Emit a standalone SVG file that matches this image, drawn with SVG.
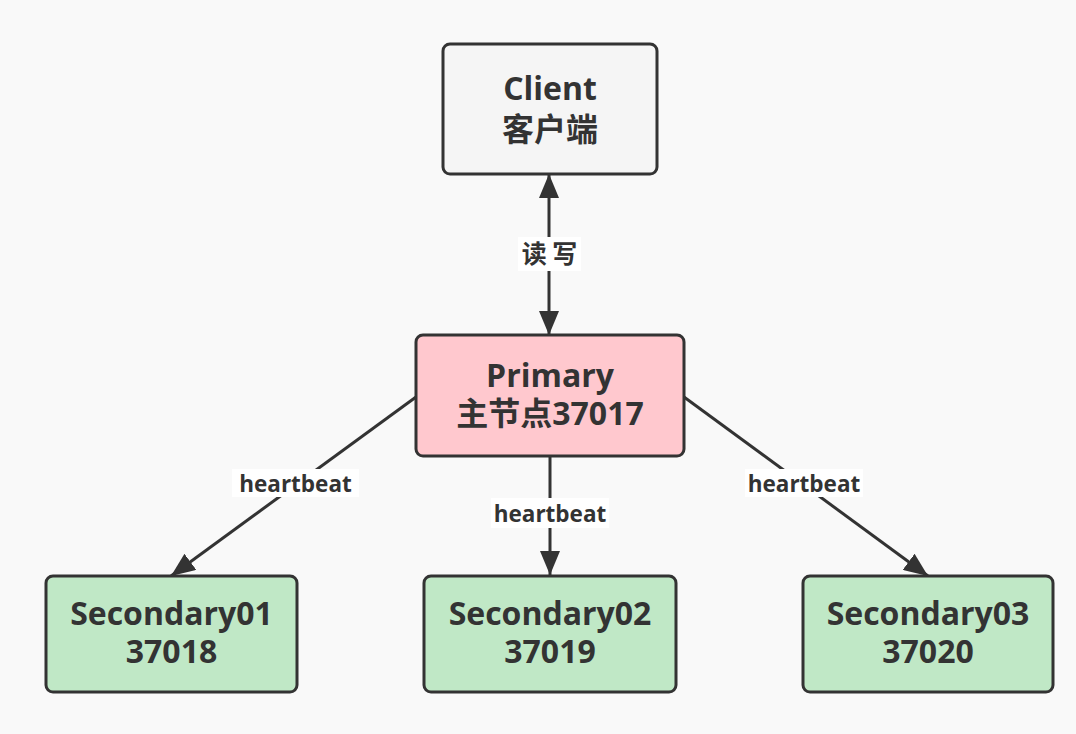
<svg xmlns="http://www.w3.org/2000/svg" width="1076" height="734" viewBox="0 0 1076 734">
<defs>
<style>
.box{stroke:#333;stroke-width:3}
.t{font-family:"Open Sans","Noto Sans CJK SC",sans-serif;font-weight:bold;font-size:32px;fill:#333;text-anchor:middle}
.l{font-family:"Open Sans","Noto Sans CJK SC",sans-serif;font-weight:bold;font-size:22.5px;fill:#333;text-anchor:middle}
.c{font-family:"Noto Sans CJK SC",sans-serif;font-weight:bold;font-size:25px;fill:#333;text-anchor:middle}
.e{stroke:#333;stroke-width:3;fill:none}
</style>
<marker id="ah" viewBox="0 0 24 20" refX="24" refY="10" markerWidth="24" markerHeight="20" markerUnits="userSpaceOnUse" orient="auto-start-reverse">
<path d="M0,0 L24,10 L0,20 Z" fill="#333"/>
</marker>
</defs>
<rect width="1076" height="734" fill="#f9f9f9"/>
<g id="connectors">
<line class="e" x1="549" y1="174" x2="549" y2="335" marker-start="url(#ah)" marker-end="url(#ah)"/>
<rect x="518" y="237" width="63" height="34" fill="#fff"/>
<text class="c" x="549.5" y="263">读 写</text>
<line class="e" x1="416" y1="397" x2="171" y2="576" marker-end="url(#ah)"/>
<rect x="232" y="469" width="127" height="28" fill="#fff"/>
<text class="l" x="295.5" y="492">heartbeat</text>
<line class="e" x1="550" y1="456" x2="550" y2="575" marker-end="url(#ah)"/>
<rect x="491" y="498" width="118" height="30" fill="#fff"/>
<text class="l" x="550" y="522">heartbeat</text>
<line class="e" x1="684" y1="397" x2="928" y2="576" marker-end="url(#ah)"/>
<rect x="745" y="469" width="118" height="28" fill="#fff"/>
<text class="l" x="804" y="492">heartbeat</text>
</g>
<g id="client">
<rect class="box" x="443" y="44" width="214" height="130" rx="7" fill="#f5f5f5"/>
<text class="t" x="550" y="100">Client</text>
<text class="t" x="550" y="141">客户端</text>
</g>
<g id="primary">
<rect class="box" x="416" y="335" width="268" height="121" rx="7" fill="#ffc8ce"/>
<text class="t" x="550" y="387">Primary</text>
<text class="t" x="550" y="425">主节点37017</text>
</g>
<g id="secondary01">
<rect class="box" x="46" y="576" width="251" height="116" rx="7" fill="#c0e8c6"/>
<text class="t" x="171.5" y="625">Secondary01</text>
<text class="t" x="171.5" y="663">37018</text>
</g>
<g id="secondary02">
<rect class="box" x="424" y="576" width="252" height="116" rx="7" fill="#c0e8c6"/>
<text class="t" x="550" y="625">Secondary02</text>
<text class="t" x="550" y="663">37019</text>
</g>
<g id="secondary03">
<rect class="box" x="803" y="576" width="250" height="116" rx="7" fill="#c0e8c6"/>
<text class="t" x="928" y="625">Secondary03</text>
<text class="t" x="928" y="663">37020</text>
</g>
</svg>
